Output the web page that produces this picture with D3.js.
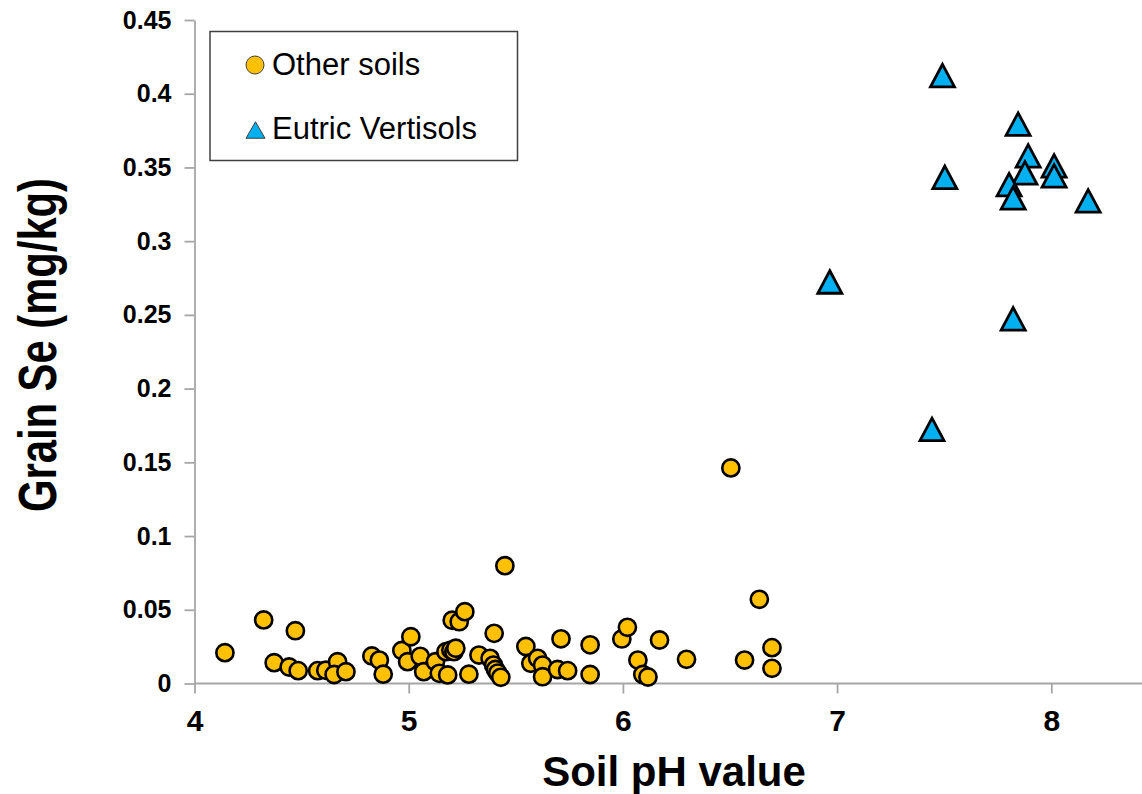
<!DOCTYPE html>
<html>
<head>
<meta charset="utf-8">
<script src="https://cdn.jsdelivr.net/npm/d3@7"></script>
<style>
  html, body { margin: 0; padding: 0; background: #fff; }
  svg { display: block; }
  text { font-family: "Liberation Sans", Arial, sans-serif; }
</style>
</head>
<body>
<svg id="chart" width="1142" height="794"></svg>
<script>
// Soil pH vs grain selenium, two soil groups
const otherPH = [4.142, 4.323, 4.471, 4.372, 4.442, 4.484, 4.575, 4.613, 4.668, 4.652,
  4.707, 4.828, 4.863, 4.881, 4.968, 5.010, 4.995, 5.054, 5.070, 5.125,
  5.143, 5.174, 5.197, 5.211, 5.220, 5.182, 5.203, 5.236, 5.262, 5.281,
  5.328, 5.399, 5.449, 5.380, 5.396, 5.405, 5.416, 5.430, 5.547, 5.570,
  5.602, 5.625, 5.625, 5.711, 5.695, 5.742, 5.847, 5.847, 5.995, 6.021,
  6.070, 6.093, 6.117, 6.171, 6.297, 6.568, 6.504, 6.637, 6.696, 6.696];
const otherSe = [0.0209, 0.0431, 0.0358, 0.0141, 0.0112, 0.0087, 0.0087, 0.0090, 0.0148, 0.0061,
  0.0080, 0.0187, 0.0159, 0.0063, 0.0224, 0.0317, 0.0148, 0.0184, 0.0080, 0.0148,
  0.0069, 0.0216, 0.0227, 0.0216, 0.0239, 0.0058, 0.0429, 0.0419, 0.0487, 0.0063,
  0.0193, 0.0340, 0.0799, 0.0171, 0.0125, 0.0095, 0.0071, 0.0042, 0.0251, 0.0137,
  0.0171, 0.0125, 0.0046, 0.0303, 0.0095, 0.0087, 0.0262, 0.0061, 0.0302, 0.0381,
  0.0159, 0.0061, 0.0044, 0.0295, 0.0164, 0.0159, 0.1462, 0.0571, 0.0243, 0.0103];

const vertPH = [7.492, 7.845, 7.892, 8.013, 8.013, 7.877, 7.803, 7.822, 7.503, 8.172,
  6.966, 7.822, 7.443];
const vertSe = [0.413, 0.380, 0.3585, 0.3517, 0.3449, 0.347, 0.339, 0.330, 0.344, 0.328,
  0.273, 0.248, 0.173];

const xTicks = [4, 5, 6, 7, 8];
const yTicks = [0, 0.05, 0.1, 0.15, 0.2, 0.25, 0.3, 0.35, 0.4, 0.45];
const yTickLabels = ["0", "0.05", "0.1", "0.15", "0.2", "0.25", "0.3", "0.35", "0.4", "0.45"];
const seriesNames = ["Other soils", "Eutric Vertisols"];

const COL_OTHER = "#FFC000";
const COL_VERT = "#00B0F0";
const AXIS_GREY = "#A6A6A6";

const svg = d3.select("#chart");

const x0 = 194.5;
const x = d3.scaleLinear().domain([4, 8.5]).range([x0, x0 + 4.5 * 214.2]);
const y = d3.scaleLinear().domain([0, 0.45]).range([683.5, 20]);

// Axes
const gx = svg.append("g").attr("transform", `translate(0,${y(0)})`)
  .call(d3.axisBottom(x).tickValues(xTicks).tickSize(10).tickSizeOuter(0).tickPadding(16)
    .tickFormat(d3.format("d")));
gx.select(".domain").attr("stroke", AXIS_GREY).attr("stroke-width", 1.8)
  .attr("d", `M${x0},0H1142`);
gx.selectAll(".tick line").attr("stroke", AXIS_GREY).attr("stroke-width", 1.8);
gx.selectAll(".tick text").attr("fill", "#000").style("font-size", "30px")
  .style("font-weight", "bold").style("font-family", "'Liberation Sans', Arial, sans-serif");

const gy = svg.append("g").attr("transform", `translate(${x0},0)`)
  .call(d3.axisLeft(y).tickValues(yTicks).tickSize(10).tickSizeOuter(0).tickPadding(13)
    .tickFormat((d, i) => yTickLabels[i]));
gy.select(".domain").attr("stroke", AXIS_GREY).attr("stroke-width", 1.8);
gy.selectAll(".tick line").attr("stroke", AXIS_GREY).attr("stroke-width", 1.8);
gy.selectAll(".tick text").attr("fill", "#000").style("font-size", "25px")
  .style("font-weight", "bold").style("font-family", "'Liberation Sans', Arial, sans-serif");

// Axis titles
svg.append("text")
  .attr("x", 674).attr("y", 786)
  .attr("text-anchor", "middle")
  .style("font-size", "42px").style("font-weight", "bold")
  .text("Soil pH value");

svg.append("text")
  .attr("transform", "translate(56,345) rotate(-90)")
  .attr("text-anchor", "middle")
  .attr("textLength", 334).attr("lengthAdjust", "spacingAndGlyphs")
  .style("font-size", "54px").style("font-weight", "bold")
  .text("Grain Se (mg/kg)");

// Triangle centred on its bounding box
function triPath(w, h) {
  return `M0,${-h / 2}L${w / 2},${h / 2}L${-w / 2},${h / 2}Z`;
}

// Other soils: circles
const other = otherPH.map((p, i) => ({ ph: p, se: otherSe[i] }));
svg.append("g").selectAll("circle").data(other).join("circle")
  .attr("cx", d => x(d.ph)).attr("cy", d => y(d.se)).attr("r", 8.6)
  .attr("fill", COL_OTHER).attr("stroke", "#000").attr("stroke-width", 2.6);

// Eutric Vertisols: triangles
const vert = vertPH.map((p, i) => ({ ph: p, se: vertSe[i] }));
svg.append("g").selectAll("path").data(vert).join("path")
  .attr("d", triPath(24, 22.5))
  .attr("transform", d => `translate(${x(d.ph)},${y(d.se) + 1})`)
  .attr("fill", COL_VERT).attr("stroke", "#000").attr("stroke-width", 2.8)
  .attr("stroke-linejoin", "miter");

// Legend
const lg = svg.append("g");
lg.append("rect").attr("x", 210).attr("y", 31.5).attr("width", 307.5).attr("height", 129)
  .attr("fill", "#fff").attr("stroke", "#404040").attr("stroke-width", 1.5);
lg.append("circle").attr("cx", 255).attr("cy", 65).attr("r", 9)
  .attr("fill", COL_OTHER).attr("stroke", "#404040").attr("stroke-width", 1);
lg.append("path").attr("d", triPath(19, 16.5)).attr("transform", "translate(255.5,130)")
  .attr("fill", COL_VERT).attr("stroke", "#404040").attr("stroke-width", 1);
lg.append("text").attr("x", 272).attr("y", 75).style("font-size", "31px").text(seriesNames[0]);
lg.append("text").attr("x", 272).attr("y", 138.5).style("font-size", "31px").text(seriesNames[1]);
</script>
</body>
</html>
